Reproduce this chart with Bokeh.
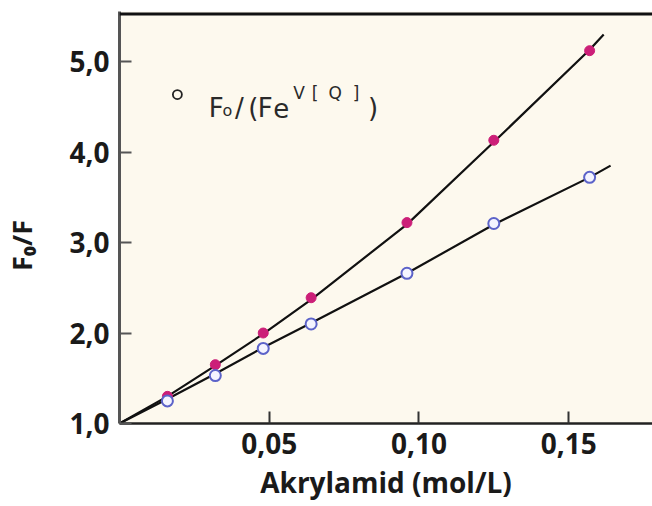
from bokeh.plotting import figure
from bokeh.models import Label, Span, FixedTicker, Range1d
from bokeh.embed import file_html
from bokeh.resources import INLINE

# ---- data ----
conc = [0.016, 0.032, 0.048, 0.064, 0.096, 0.125, 0.157]
f_magenta = [1.30, 1.65, 2.00, 2.39, 3.22, 4.13, 5.12]
f_blue = [1.25, 1.53, 1.83, 2.10, 2.66, 3.21, 3.72]

fit_x_m = [0.0, 0.016, 0.032, 0.048, 0.064, 0.096, 0.125, 0.157, 0.1617]
fit_y_m = [1.0, 1.30, 1.64, 1.99, 2.37, 3.20, 4.11, 5.13, 5.30]
fit_x_b = [0.0, 0.016, 0.032, 0.048, 0.064, 0.096, 0.125, 0.157, 0.164]
fit_y_b = [1.0, 1.27, 1.55, 1.84, 2.11, 2.66, 3.20, 3.72, 3.85]

xtick_vals = [0.05, 0.10, 0.15]
xtick_labels = ["0,05", "0,10", "0,15"]
ytick_vals = [1, 2, 3, 4, 5]
ytick_labels = ["1,0", "2,0", "3,0", "4,0", "5,0"]

x_title = "Akrylamid (mol/L)"
y_title = "F\u2080/F"

# ---- figure ----
X0, X1 = 0.0, 0.178
Y0, Y1 = 1.0, 5.553

p = figure(width=652, height=506, output_backend="svg", toolbar_location=None,
           x_range=Range1d(X0, X1), y_range=Range1d(Y0, Y1),
           min_border_left=118, min_border_right=0, min_border_top=11,
           min_border_bottom=83)
p.background_fill_color = "#FDF9EE"
p.border_fill_color = "white"
p.outline_line_color = None
p.grid.visible = False

FONT = "Open Sans"
for ax in (p.xaxis[0], p.yaxis[0]):
    ax.major_label_text_font = FONT
    ax.major_label_text_font_style = "bold"
    ax.major_label_text_font_size = "28px"
    ax.major_label_text_color = "#1a1a1a"
    ax.axis_label_text_font = FONT
    ax.axis_label_text_font_style = "bold"
    ax.axis_label_text_color = "#1a1a1a"
    ax.minor_tick_line_color = None
    ax.major_tick_out = 0
    ax.major_tick_in = 12
    ax.major_tick_line_width = 2

p.xaxis.ticker = FixedTicker(ticks=xtick_vals)
p.xaxis.major_label_overrides = {v: s for v, s in zip(xtick_vals, xtick_labels)}
p.yaxis.ticker = FixedTicker(ticks=ytick_vals)
p.yaxis.major_label_overrides = {v: s for v, s in zip(ytick_vals, ytick_labels)}
p.xaxis.major_label_standoff = 9
p.yaxis.major_label_standoff = 10
p.xaxis.axis_line_width = 2.5
p.xaxis.axis_line_color = "#222222"
p.xaxis.major_tick_line_color = "#333333"
p.yaxis.axis_line_width = 3
p.yaxis.axis_line_color = "#555555"
p.yaxis.major_tick_line_color = "#555555"

p.xaxis.axis_label = x_title
p.xaxis.axis_label_text_font_size = "28px"
p.xaxis.axis_label_standoff = 6
p.yaxis.axis_label = y_title + "\u00a0" * 8
p.yaxis.axis_label_text_font_size = "27px"
p.yaxis.axis_label_standoff = 26

# top border line
p.add_layout(Span(location=5.525, dimension="width", line_color="#111111", line_width=3))

# fitted curves
p.line(fit_x_m, fit_y_m, line_color="#111111", line_width=2.2)
p.line(fit_x_b, fit_y_b, line_color="#111111", line_width=2.2)

# points
p.scatter(conc, f_magenta, size=10, fill_color="#CC1F78", line_color="#CC1F78", line_width=1)
p.scatter(conc, f_blue, size=11, fill_color="#F4F4FF", line_color="#5C63C9", line_width=2)

# ---- helpers for px -> data (for text placement) ----
def dx(px):
    return (px - 118) / 3000.0

def dy(py):
    return 1 + (423 - py) / 90.5

# legend
p.scatter([dx(176)], [dy(94)], size=9, fill_color=None, line_color="#222222", line_width=1.8)
LF = "DejaVu Sans"
LC = "#2a2a2a"
legend_parts = [
    ("F", 215, 107, "26px"),
    ("o", 226, 110, "16px"),
    ("/", 238, 107, "26px"),
    ("(", 252, 107, "26px"),
    ("F", 264, 107, "26px"),
    ("e", 280, 107, "26px"),
    ("V", 298, 92, "17px"),
    ("[", 314, 92, "17px"),
    ("Q", 334, 92, "17px"),
    ("]", 355, 92, "17px"),
    (")", 372, 107, "26px"),
]
for t, px, py, fs in legend_parts:
    p.add_layout(Label(x=dx(px), y=dy(py), text=t, text_align="center",
                       text_baseline="alphabetic", text_font=LF,
                       text_font_size=fs, text_color=LC))

open("out.html", "w").write(file_html(p, INLINE))
